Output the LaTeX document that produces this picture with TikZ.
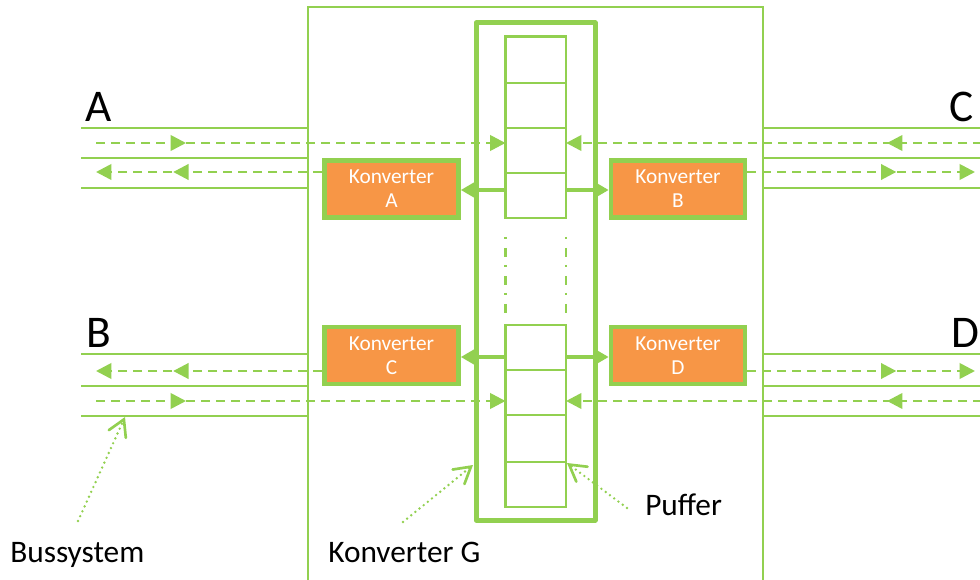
\documentclass[tikz,border=0pt]{standalone}
\usepackage{fontspec}
\setmainfont{Carlito}
\usetikzlibrary{arrows.meta,decorations.markings}
\definecolor{grn}{HTML}{92D050}
\definecolor{org}{HTML}{F79646}
\begin{document}
\begin{tikzpicture}[x=0.75pt,y=-0.75pt,
  bus/.style={draw=grn,line width=2pt},
  flow/.style={draw=grn,line width=2pt,dash pattern=on 6.75pt off 4.5pt,-{Triangle[length=11.5pt,width=11.5pt]}},
  midarr/.style={postaction={decorate,decoration={markings,mark=at position #1 with {\arrow{Triangle[length=11.5pt,width=11.5pt]}}}}},
  konv/.style={draw=grn,fill=org,line width=3.5pt,minimum width=100.5pt,minimum height=42.75pt,inner sep=0pt,align=center,text=white,font=\fontsize{16}{18}\selectfont},
  feed/.style={draw=grn,line width=2.5pt,-{Triangle[length=11pt,width=12pt]}},
  cell/.style={draw=grn,line width=2pt},
  ptr/.style={draw=grn,line width=2pt,line cap=round,dash pattern=on 0pt off 4pt,-{Straight Barb[length=12pt,width=14pt,line cap=round]}},
  big/.style={font=\fontsize{34}{40}\selectfont,anchor=base west,inner sep=0pt},
  lbl/.style={font=\fontsize{23.5}{28}\selectfont,anchor=base west,inner sep=0pt}
]
\useasboundingbox (0,0) rectangle (980,580);

% outer frame
\draw[bus] (308,590) |- (763,7) -- (763,590);
% Konverter G frame
\draw[draw=grn,line width=3.75pt,line join=round] (476,23) rectangle (595,520);

% buffer
\draw[cell] (505.5,36.5) rectangle (566,218);
\foreach \y in {83,128,173} \draw[cell] (505.5,\y) -- (566,\y);
\draw[cell] (505.5,325) rectangle (566,507);
\foreach \y in {370,415,462} \draw[cell] (505.5,\y) -- (566,\y);
\draw[cell,dash pattern=on 1.5pt off 6.75pt on 6.75pt off 6pt] (505.5,237) -- (505.5,314);
\draw[cell,dash pattern=on 1.5pt off 6.75pt on 6.75pt off 6pt] (566,237) -- (566,314);

% bus lines
\foreach \y in {128,158,188,354,386,416} {
  \draw[bus] (81,\y) -- (308,\y);
  \draw[bus] (763,\y) -- (982,\y);
}

% converters
\node[konv] (KA) at (391.5,189) {Konverter\\A};
\node[konv] (KB) at (678,189) {Konverter\\B};
\node[konv] (KC) at (391.5,355.5) {Konverter\\C};
\node[konv] (KD) at (678,355.5) {Konverter\\D};

% coordinates
\coordinate (a1s) at (96,143);  \coordinate (a1e) at (505.5,143);
\coordinate (a2e) at (96,172);
\coordinate (b1e) at (96,371);
\coordinate (b2s) at (96,401);  \coordinate (b2e) at (505.5,401);
\coordinate (c1s) at (982,143); \coordinate (c1e) at (566,143);
\coordinate (c2e) at (975,172);
\coordinate (d1e) at (975,371);
\coordinate (d2s) at (982,401); \coordinate (d2e) at (566,401);

% flows
\draw[flow,midarr=67.5pt] (a1s) -- (a1e);
\draw[flow,midarr=111.75pt] (KA.west |- a2e) -- (a2e);
\draw[flow,midarr=111.75pt] (KC.west |- b1e) -- (b1e);
\draw[flow,midarr=67.5pt] (b2s) -- (b2e);
\draw[flow,midarr=71.25pt] (c1s) -- (c1e);
\draw[flow,midarr=111.75pt] (KB.east |- c2e) -- (c2e);
\draw[flow,midarr=111.75pt] (KD.east |- d1e) -- (d1e);
\draw[flow,midarr=71.25pt] (d2s) -- (d2e);

% feeds from buffer to converters
\coordinate (fa) at (505.5,190); \coordinate (fb) at (566,190);
\coordinate (fc) at (505.5,357); \coordinate (fd) at (566,357);
\draw[feed] (fa) -- (KA.east |- fa);
\draw[feed] (fb) -- (KB.west |- fb);
\draw[feed] (fc) -- (KC.east |- fc);
\draw[feed] (fd) -- (KD.west |- fd);

% labels
\node[big] (lA) at (85,122) {A};
\node[big] (lB) at (86,348) {B};
\node[big] (lC) at (949,122) {C};
\node[big] (lD) at (951,348) {D};
\node[lbl] (lbus) at (10,562) {Bussystem};
\node[lbl] (lkg) at (328,562) {Konverter G};
\node[lbl] (lpuf) at (645,515) {Puffer};

% pointers
\coordinate (pbT) at (78,521);  \coordinate (pbH) at (125,417);
\coordinate (pgT) at (403,522); \coordinate (pgH) at (473,465);
\coordinate (ppT) at (627,508); \coordinate (ppH) at (567,463);
\draw[ptr] (pbT) -- (pbH);
\draw[ptr] (pgT) -- (pgH);
\draw[ptr] (ppT) -- (ppH);
\end{tikzpicture}
\end{document}
